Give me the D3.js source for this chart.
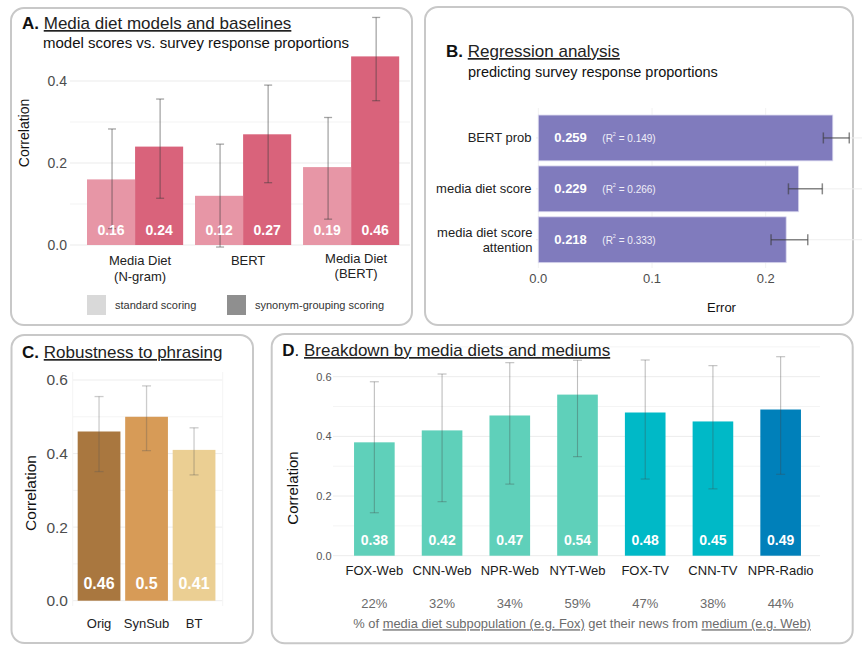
<!DOCTYPE html>
<html><head><meta charset="utf-8">
<script src="https://cdn.jsdelivr.net/npm/d3@7"></script>
<style>
body{margin:0;background:#fff;}
text{font-family:"Liberation Sans", Arial, Helvetica, sans-serif;}
</style></head><body>
<svg id="c" width="863" height="652"></svg>
<script>
// ---------- Panel A data ----------
const aCategories = ["Media Diet (N-gram)", "BERT", "Media Diet (BERT)"];
const aLabelLines = [["Media Diet", "(N-gram)"], ["BERT"], ["Media Diet", "(BERT)"]];
const aSeries = ["standard scoring", "synonym-grouping scoring"];
const aStandard = [0.16, 0.12, 0.19];
const aStandardLow = [0.04, -0.005, 0.063];
const aStandardHigh = [0.283, 0.246, 0.311];
const aSynonym = [0.24, 0.27, 0.46];
const aSynonymLow = [0.114, 0.152, 0.352];
const aSynonymHigh = [0.356, 0.39, 0.555];
const aTicks = [0, 0.2, 0.4];
const aMinorTicks = [0.1, 0.3];
// ---------- Panel B data ----------
const bCategories = ["BERT prob", "media diet score", "media diet score attention"];
const bLabelLines = [["BERT prob"], ["media diet score"], ["media diet score", "attention"]];
const bError = [0.259, 0.229, 0.218];
const bErrLow = [0.2507, 0.22, 0.2047];
const bErrHigh = [0.2735, 0.2498, 0.237];
const bR2 = ["0.149", "0.266", "0.333"];
const bTicks = [0, 0.1, 0.2];
// ---------- Panel C data ----------
const cCategories = ["Orig", "SynSub", "BT"];
const cValues = [0.46, 0.5, 0.41];
const cLow = [0.351, 0.408, 0.342];
const cHigh = [0.555, 0.584, 0.47];
const cTicks = [0, 0.2, 0.4, 0.6];
const cMinorTicks = [0.1, 0.3, 0.5];
// ---------- Panel D data ----------
const dCategories = ["FOX-Web", "CNN-Web", "NPR-Web", "NYT-Web", "FOX-TV", "CNN-TV", "NPR-Radio"];
const dMedium = ["Web", "Web", "Web", "Web", "TV", "TV", "Radio"];
const dValues = [0.38, 0.42, 0.47, 0.54, 0.48, 0.45, 0.49];
const dLow = [0.144, 0.181, 0.240, 0.332, 0.257, 0.224, 0.273];
const dHigh = [0.583, 0.609, 0.647, 0.655, 0.656, 0.637, 0.667];
const dPercent = ["22%", "32%", "34%", "59%", "47%", "38%", "44%"];
const dTicks = [0, 0.2, 0.4, 0.6];
const dMinorTicks = [0.1, 0.3, 0.5, 0.7];

const svg = d3.select("#c");
svg.append("rect").attr("width", 863).attr("height", 652).attr("fill", "#fff");

function box(x, y, w, h) {
  svg.append("rect").attr("x", x).attr("y", y).attr("width", w).attr("height", h)
    .attr("rx", 13).attr("fill", "none").attr("stroke", "#c8c8c8").attr("stroke-width", 2);
}
function title(g, x, y, letter, txt, dotBold) {
  const t = g.append("text").attr("x", x).attr("y", y).attr("font-size", 17).attr("fill", "#111");
  t.append("tspan").attr("font-weight", "bold").text(dotBold ? letter + "." : letter);
  if (!dotBold) t.append("tspan").text(".");
  t.append("tspan").text(" ");
  t.append("tspan").attr("text-decoration", "underline").attr("fill", "#222").text(txt);
}
function vErr(g, x, y1, y2, cap, color, op, sw) {
  const e = g.append("g").attr("stroke", color).attr("stroke-opacity", op).attr("stroke-width", sw);
  e.append("line").attr("x1", x).attr("x2", x).attr("y1", y1).attr("y2", y2);
  e.append("line").attr("x1", x - cap).attr("x2", x + cap).attr("y1", y1).attr("y2", y1);
  e.append("line").attr("x1", x - cap).attr("x2", x + cap).attr("y1", y2).attr("y2", y2);
}

// =============== Panel A ===============
box(11, 8, 401, 317);
{
  const g = svg.append("g");
  title(g, 22, 29, "A", "Media diet models and baselines", true);
  g.append("text").attr("x", 43).attr("y", 48).attr("font-size", 15).attr("fill", "#111")
    .text("model scores vs. survey response proportions");
  const y = d3.scaleLinear().domain([0, 0.4]).range([245, 81]);
  const x0 = d3.scaleBand().domain(aCategories).range([87, 399.2]).paddingInner(0.11).paddingOuter(0);
  const x1 = d3.scaleBand().domain(aSeries).range([0, x0.bandwidth()]).padding(0);
  const colors = { "standard scoring": "#e796a6", "synonym-grouping scoring": "#d9637b" };
  aMinorTicks.forEach(t => g.append("line").attr("x1", 70).attr("x2", 410).attr("y1", y(t)).attr("y2", y(t))
    .attr("stroke", "#f3f3f3").attr("stroke-width", 1));
  aTicks.forEach(t => g.append("line").attr("x1", 70).attr("x2", 410).attr("y1", y(t)).attr("y2", y(t))
    .attr("stroke", "#ebebeb").attr("stroke-width", 1));
  const ax = g.append("g").attr("transform", "translate(70,0)")
    .call(d3.axisLeft(y).tickValues(aTicks).tickFormat(d3.format(".1f")).tickSize(0).tickPadding(3));
  ax.select(".domain").remove();
  ax.selectAll("text").attr("font-size", 14).attr("fill", "#4d4d4d")
    .style("font-family", '"Liberation Sans", Arial, sans-serif');
  g.append("text").attr("transform", "translate(29,133) rotate(-90)").attr("text-anchor", "middle")
    .attr("font-size", 14).attr("fill", "#111").text("Correlation");
  const rows = aCategories.map((c, i) => [
    { c, s: aSeries[0], v: aStandard[i], lo: aStandardLow[i], hi: aStandardHigh[i] },
    { c, s: aSeries[1], v: aSynonym[i], lo: aSynonymLow[i], hi: aSynonymHigh[i] }
  ]).flat();
  g.selectAll("rect.bar").data(rows).join("rect").attr("class", "bar")
    .attr("x", d => x0(d.c) + x1(d.s)).attr("width", x1.bandwidth())
    .attr("y", d => y(d.v)).attr("height", d => y(0) - y(d.v)).attr("fill", d => colors[d.s]);
  rows.forEach(d => {
    const cx = x0(d.c) + x1(d.s) + x1.bandwidth() / 2 + 1;
    vErr(g, cx, y(d.hi), y(d.lo), 4, "#3a3a3a", 0.45, 1.3);
  });
  rows.forEach(d => {
    g.append("text").attr("x", x0(d.c) + x1(d.s) + x1.bandwidth() / 2).attr("y", 235)
      .attr("text-anchor", "middle").attr("font-size", 14).attr("font-weight", "bold").attr("fill", "#fff")
      .text(d.v.toFixed(2));
  });
  aCategories.forEach((c, i) => {
    const lines = aLabelLines[i];
    const t = g.append("text").attr("text-anchor", "middle").attr("font-size", 13).attr("fill", "#222")
      .attr("x", x0(c) + x0.bandwidth() / 2 + 5).attr("y", i === 2 ? 262.5 : 265);
    lines.forEach((l, j) => t.append("tspan").attr("x", x0(c) + x0.bandwidth() / 2 + 5).attr("dy", j ? 15.5 : 0).text(l));
  });
  const lg = [{ s: aSeries[0], x: 87, c: "#d9d9d9" }, { s: aSeries[1], x: 227, c: "#8f8f8f" }];
  lg.forEach(d => {
    g.append("rect").attr("x", d.x).attr("y", 295).attr("width", 19).attr("height", 20).attr("fill", d.c);
    g.append("text").attr("x", d.x + 28).attr("y", 309).attr("font-size", 11).attr("fill", "#333").text(d.s);
  });
}

// =============== Panel B ===============
box(425, 7, 428, 318);
{
  const g = svg.append("g");
  title(g, 446, 57, "B", "Regression analysis", true);
  g.append("text").attr("x", 468).attr("y", 77).attr("font-size", 14.5).attr("fill", "#111")
    .text("predicting survey response proportions");
  const x = d3.scaleLinear().domain([0, 0.1]).range([538.3, 652]);
  const y = d3.scaleBand().domain(bCategories).range([112.5, 265.2]).paddingInner(0.1).paddingOuter(0.05);
  bTicks.forEach(t => g.append("line").attr("x1", x(t)).attr("x2", x(t)).attr("y1", 108).attr("y2", 268)
    .attr("stroke", "#f2f2f2"));
  bCategories.forEach(c => g.append("line").attr("x1", 536).attr("x2", 862)
    .attr("y1", y(c) + y.bandwidth() / 2).attr("y2", y(c) + y.bandwidth() / 2).attr("stroke", "#eeeeee"));
  g.selectAll("rect.bar").data(bCategories).join("rect").attr("class", "bar")
    .attr("x", x(0)).attr("y", d => y(d)).attr("height", y.bandwidth())
    .attr("width", (d, i) => x(bError[i]) - x(0)).attr("fill", "#807bbd")
    .attr("stroke", "#d9d7ee").attr("stroke-width", 0.8);
  bCategories.forEach((c, i) => {
    const cy = y(c) + y.bandwidth() / 2;
    const e = g.append("g").attr("stroke", "#3a3a3a").attr("stroke-opacity", 0.6).attr("stroke-width", 1.5);
    e.append("line").attr("x1", x(bErrLow[i])).attr("x2", x(bErrHigh[i])).attr("y1", cy).attr("y2", cy);
    [bErrLow[i], bErrHigh[i]].forEach(v => e.append("line").attr("x1", x(v)).attr("x2", x(v)).attr("y1", cy - 5.5).attr("y2", cy + 5.5));
    g.append("text").attr("x", 554.3).attr("y", cy + 4.5).attr("font-size", 13).attr("font-weight", "bold")
      .attr("fill", "#fff").text(bError[i].toFixed(3));
    const t = g.append("text").attr("x", 602.3).attr("y", cy + 4).attr("font-size", 10).attr("fill", "#f0eff8");
    t.append("tspan").text("(R");
    t.append("tspan").attr("font-size", 5.5).attr("dy", -6).text("2");
    t.append("tspan").attr("dy", 6).text(" = " + bR2[i] + ")");
    const lines = bLabelLines[i];
    const lt = g.append("text").attr("text-anchor", "end").attr("font-size", 13).attr("fill", "#222");
    if (lines.length === 1) {
      lt.attr("x", 531.5).attr("y", cy + 4.5).text(lines[0]);
    } else {
      lines.forEach((l, j) => lt.append("tspan").attr("x", 532.5).attr("y", cy - 3 + j * 15).text(l));
    }
  });
  bTicks.forEach(t => g.append("text").attr("x", x(t)).attr("y", 283).attr("text-anchor", "middle")
    .attr("font-size", 13).attr("fill", "#4d4d4d").text(d3.format(".1f")(t)));
  g.append("text").attr("x", 721.5).attr("y", 311.5).attr("text-anchor", "middle").attr("font-size", 13)
    .attr("fill", "#111").text("Error");
}

// =============== Panel C ===============
box(11.5, 335, 241.5, 308);
{
  const g = svg.append("g");
  title(g, 22, 358, "C", "Robustness to phrasing", true);
  const y = d3.scaleLinear().domain([0, 0.6]).range([600.7, 380]);
  const x = d3.scaleBand().domain(cCategories).range([75.3, 217.8]).paddingInner(0.1).paddingOuter(0.05);
  const colors = ["#a9773f", "#d79b57", "#ebcf93"];
  cMinorTicks.forEach(t => g.append("line").attr("x1", 72.7).attr("x2", 222.7).attr("y1", y(t)).attr("y2", y(t)).attr("stroke", "#f4f4f4"));
  cTicks.forEach(t => g.append("line").attr("x1", 72.7).attr("x2", 222.7).attr("y1", y(t)).attr("y2", y(t)).attr("stroke", "#ededed"));
  [72.7, 222.7].forEach(xx => g.append("line").attr("x1", xx).attr("x2", xx).attr("y1", 372).attr("y2", 606).attr("stroke", "#f4f4f4"));
  const ax = g.append("g").attr("transform", "translate(71,0)")
    .call(d3.axisLeft(y).tickValues(cTicks).tickFormat(d3.format(".1f")).tickSize(0).tickPadding(3));
  ax.select(".domain").remove();
  ax.selectAll("text").attr("font-size", 15.5).attr("fill", "#4d4d4d")
    .style("font-family", '"Liberation Sans", Arial, sans-serif');
  g.append("text").attr("transform", "translate(36,493) rotate(-90)").attr("text-anchor", "middle")
    .attr("font-size", 15.5).attr("fill", "#111").text("Correlation");
  g.selectAll("rect.bar").data(cCategories).join("rect").attr("class", "bar")
    .attr("x", d => x(d)).attr("width", x.bandwidth())
    .attr("y", (d, i) => y(cValues[i])).attr("height", (d, i) => y(0) - y(cValues[i]))
    .attr("fill", (d, i) => colors[i]);
  cCategories.forEach((c, i) => {
    const cx = x(c) + x.bandwidth() / 2;
    vErr(g, cx, y(cHigh[i]), y(cLow[i]), 4.5, "#555", 0.3, 1.3);
    g.append("text").attr("x", cx).attr("y", 589.3).attr("text-anchor", "middle").attr("font-size", 16)
      .attr("font-weight", "bold").attr("fill", "#fff").text(String(cValues[i]));
    g.append("text").attr("x", cx).attr("y", 627.7).attr("text-anchor", "middle").attr("font-size", 13)
      .attr("fill", "#222").text(c);
  });
}

// =============== Panel D ===============
box(271.7, 334, 581, 309.3);
{
  const g = svg.append("g");
  const y = d3.scaleLinear().domain([0, 0.6]).range([555.7, 376.7]);
  const x = d3.scaleBand().domain(dCategories).range([340.5, 814.5]).paddingInner(0.4).paddingOuter(0.2);
  const colors = { Web: "#5fd0ba", TV: "#00b9c7", Radio: "#0080ba" };
  dMinorTicks.forEach(t => g.append("line").attr("x1", 333).attr("x2", 820).attr("y1", y(t)).attr("y2", y(t)).attr("stroke", "#f4f4f4"));
  dTicks.forEach(t => g.append("line").attr("x1", 333).attr("x2", 820).attr("y1", y(t)).attr("y2", y(t)).attr("stroke", "#ececec"));
  const ax = g.append("g").attr("transform", "translate(334,0)")
    .call(d3.axisLeft(y).tickValues(dTicks).tickFormat(d3.format(".1f")).tickSize(0).tickPadding(2.5));
  ax.select(".domain").remove();
  ax.selectAll("text").attr("font-size", 11).attr("fill", "#555")
    .style("font-family", '"Liberation Sans", Arial, sans-serif');
  g.append("text").attr("transform", "translate(298,488) rotate(-90)").attr("text-anchor", "middle")
    .attr("font-size", 15).attr("fill", "#111").text("Correlation");
  g.selectAll("rect.bar").data(dCategories).join("rect").attr("class", "bar")
    .attr("x", d => x(d)).attr("width", x.bandwidth())
    .attr("y", (d, i) => y(dValues[i])).attr("height", (d, i) => y(0) - y(dValues[i]))
    .attr("fill", (d, i) => colors[dMedium[i]]);
  dCategories.forEach((c, i) => {
    const cx = x(c) + x.bandwidth() / 2;
    vErr(g, cx, y(dHigh[i]), y(dLow[i]), 4.5, "#444", 0.35, 1.1);
    g.append("text").attr("x", cx).attr("y", 545).attr("text-anchor", "middle").attr("font-size", 14)
      .attr("font-weight", "bold").attr("fill", "#fff").text(dValues[i].toFixed(2));
    g.append("text").attr("x", cx).attr("y", 575).attr("text-anchor", "middle").attr("font-size", 13)
      .attr("fill", "#1a1a1a").text(c);
    g.append("text").attr("x", cx).attr("y", 608.3).attr("text-anchor", "middle").attr("font-size", 13)
      .attr("fill", "#6b6b6b").text(dPercent[i]);
  });
  const tt = g.append("text").attr("x", 282.3).attr("y", 356).attr("font-size", 17).attr("fill", "#111");
  tt.append("tspan").attr("font-weight", "bold").text("D");
  tt.append("tspan").text(". ");
  tt.append("tspan").attr("text-decoration", "underline").attr("fill", "#222").text("Breakdown by media diets and mediums");
  const fn = g.append("text").attr("x", 353.3).attr("y", 628.3).attr("font-size", 12.9).attr("fill", "#6b6b6b");
  fn.append("tspan").text("% of ");
  fn.append("tspan").attr("text-decoration", "underline").text("media diet subpopulation (e.g. Fox)");
  fn.append("tspan").text(" get their news from ");
  fn.append("tspan").attr("text-decoration", "underline").text("medium (e.g. Web)");
}
</script>
</body></html>
